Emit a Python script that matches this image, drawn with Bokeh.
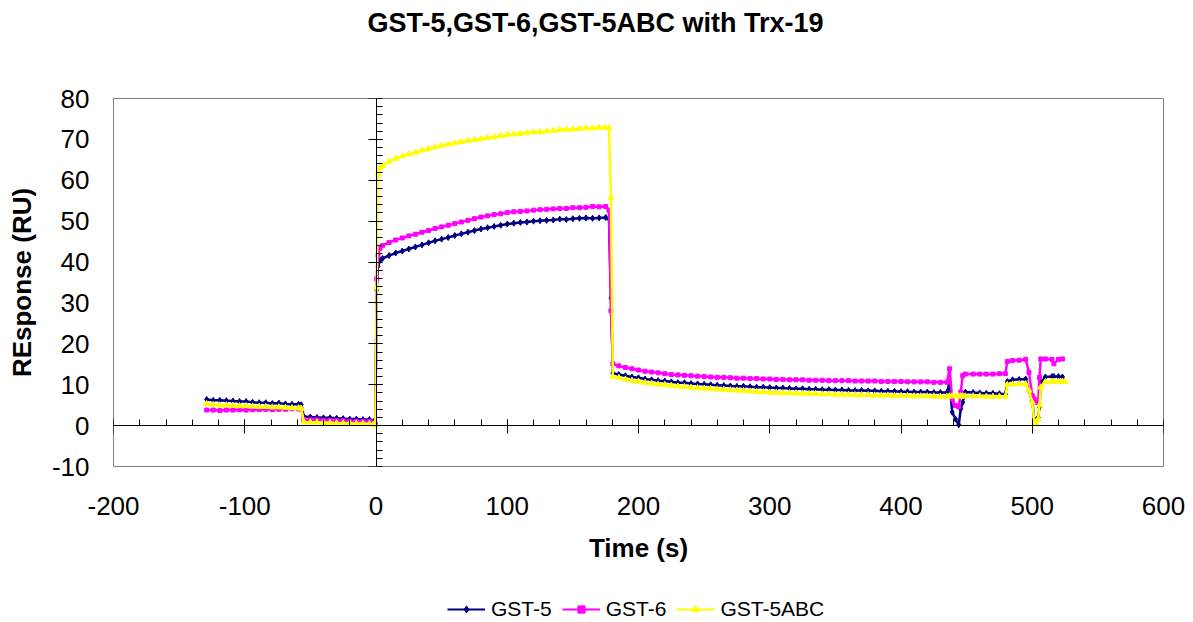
from bokeh.plotting import figure
from bokeh.layouts import column
from bokeh.models import (Range1d, LinearAxis, SingleIntervalTicker, Legend,
                          LegendItem, CustomJSTickFormatter, ColumnDataSource)
from bokeh.embed import file_html
from bokeh.resources import INLINE

FONT = "Liberation Sans"
WIDTH = 1193

# ---- sensorgram data: time (s) and response (RU), by phase ----
t_base = [-129, -124, -119, -114, -109, -104, -99, -94, -89, -84, -79, -74, -69,
          -64, -59, -57, -55, -50, -45, -40, -35, -30, -25, -20, -15, -10, -5,
          -2, -0.5]
gst5_base = [6.4, 6.2, 6.2, 6.1, 6.0, 5.9, 5.9, 5.7, 5.6, 5.6, 5.4, 5.5, 5.3,
             5.2, 5.2, 5.1, 2.2, 2.1, 2.0, 1.9, 1.9, 1.8, 1.7, 1.6, 1.6, 1.5,
             1.5, 1.0, 0.5]
gst6_base = [3.8, 3.8, 3.7, 3.8, 3.8, 3.9, 3.8, 3.9, 3.9, 4.0, 3.9, 4.0, 4.0,
             4.1, 4.1, 4.0, 1.5, 1.4, 1.4, 1.3, 1.3, 1.2, 1.2, 1.1, 1.1, 1.0,
             1.0, 0.7, 0.3]
gst5abc_base = [5.3, 5.1, 5.0, 5.0, 4.9, 4.8, 4.8, 4.7, 4.6, 4.6, 4.5, 4.5, 4.4,
                4.3, 4.3, 4.2, 0.9, 0.8, 0.8, 0.7, 0.7, 0.6, 0.6, 0.6, 0.5, 0.5,
                0.4, 0.3, 0.1]

t_assoc = [0.5, 1.5, 3, 5, 10, 15, 20, 25, 30, 35, 40, 45, 50, 55, 60, 65, 70,
           75, 80, 85, 90, 95, 100, 105, 110, 115, 120, 125, 130, 135, 140, 145,
           150, 155, 160, 165, 170, 175, 177.5]
gst5_assoc = [33.2, 39.0, 40.4, 40.9, 41.6, 42.2, 42.7, 43.2, 43.7, 44.2, 44.7,
              45.2, 45.6, 46.0, 46.5, 46.9, 47.3, 47.7, 48.1, 48.4, 48.7, 49.0,
              49.3, 49.5, 49.7, 49.8, 50.0, 50.1, 50.2, 50.3, 50.5, 50.4, 50.6,
              50.7, 50.8, 50.7, 50.8, 50.9, 50.6]
gst6_assoc = [35.9, 41.6, 43.4, 44.0, 44.8, 45.4, 45.9, 46.4, 46.8, 47.3, 47.7,
              48.2, 48.6, 49.0, 49.4, 49.8, 50.2, 50.6, 51.0, 51.3, 51.6, 51.8,
              52.1, 52.3, 52.4, 52.5, 52.7, 52.8, 52.9, 53.0, 53.1, 53.1, 53.3,
              53.3, 53.4, 53.6, 53.5, 53.6, 52.7]
gst5abc_assoc = [33.8, 61.5, 63.0, 63.6, 64.6, 65.3, 65.9, 66.4, 66.8, 67.3,
                 67.7, 68.1, 68.5, 68.8, 69.1, 69.4, 69.7, 69.9, 70.1, 70.4,
                 70.6, 70.9, 71.1, 71.3, 71.4, 71.6, 71.8, 71.8, 72.0, 72.1,
                 72.3, 72.4, 72.5, 72.6, 72.8, 72.7, 72.9, 72.9, 72.8]

t_dissoc = [179, 180.5, 185, 190, 195, 200, 205, 210, 215, 220, 225, 230, 235,
            240, 245, 250, 255, 260, 265, 270, 275, 280, 285, 290, 295, 300,
            305, 310, 315, 320, 325, 330, 335, 340, 345, 350, 355, 360, 365,
            370, 375, 380, 385, 390, 395, 400, 405, 410, 415, 420, 425, 430, 435]
gst5_dissoc = [31.2, 12.8, 12.5, 12.2, 11.9, 11.7, 11.4, 11.2, 11.0, 10.9, 10.7,
               10.5, 10.5, 10.3, 10.2, 10.1, 10.0, 9.9, 9.8, 9.7, 9.6, 9.6, 9.5,
               9.4, 9.4, 9.3, 9.2, 9.2, 9.1, 9.0, 9.0, 8.9, 8.9, 8.8, 8.8, 8.7,
               8.7, 8.6, 8.6, 8.6, 8.5, 8.5, 8.4, 8.4, 8.4, 8.3, 8.3, 8.2, 8.2,
               8.2, 8.1, 8.1, 8.1]
gst6_dissoc = [28.1, 15.1, 14.6, 14.2, 13.9, 13.6, 13.3, 13.1, 12.9, 12.7, 12.5,
               12.4, 12.3, 12.2, 12.1, 12.0, 11.9, 11.8, 11.8, 11.7, 11.6, 11.6,
               11.5, 11.5, 11.4, 11.4, 11.3, 11.3, 11.2, 11.2, 11.2, 11.1, 11.1,
               11.1, 11.0, 11.0, 11.0, 11.0, 10.9, 10.9, 10.9, 10.9, 10.8, 10.8,
               10.8, 10.8, 10.7, 10.7, 10.7, 10.7, 10.6, 10.6, 10.6]
gst5abc_dissoc = [55.8, 12.0, 11.7, 11.3, 11.0, 10.8, 10.5, 10.3, 10.1, 10.0,
                  9.8, 9.6, 9.5, 9.3, 9.2, 9.1, 9.0, 8.9, 8.8, 8.7, 8.6, 8.5,
                  8.4, 8.3, 8.2, 8.1, 8.1, 8.0, 8.0, 7.9, 7.9, 7.8, 7.8, 7.7,
                  7.7, 7.6, 7.6, 7.6, 7.5, 7.5, 7.5, 7.4, 7.4, 7.4, 7.3, 7.3,
                  7.3, 7.2, 7.2, 7.2, 7.2, 7.1, 7.1]

NA = float("nan")
t_regen = [437, 439, 441.5, 444, 445.5, 447, 449, 455, 460, 465, 470, 475,
           479.5, 481, 485, 490, 495, 497.5, 500, 501.5, 503, 504.5, 505.5,
           506.5, 510, 515, 516.5, 520, 523, 525]
gst5_regen = [10.6, 3.3, 1.6, 0.2, 4.1, 5.7, 8.2, 8.1, 8.0, 7.9, 7.9, 7.8, 7.7,
              10.8, 11.2, 11.3, 11.4, 8.6, 6.1, 1.6, 1.2, 2.0, 4.5, 10.6, 11.9,
              12.0, 12.0, 12.0, 11.9, NA]
gst6_regen = [13.9, 6.5, 4.9, 4.6, 8.2, 12.2, 12.6, 12.6, 12.6, 12.6, 12.6,
              12.7, 12.7, 15.7, 15.9, 16.0, 16.2, 13.0, 7.3, 6.5, 5.7, 5.7,
              11.8, 16.3, 16.3, 16.2, 15.1, 16.2, 16.3, NA]
gst5abc_regen = [7.2, 7.2, 7.2, 7.2, 7.2, 7.2, 7.2, 7.2, 7.2, 7.1, 7.1, 7.1,
                 7.1, 10.0, 10.1, 10.2, 10.2, 8.6, 5.7, 1.2, 0.4, 1.6, 5.0, 9.4,
                 10.7, 10.8, 10.8, 10.8, 10.8, 10.7]

series_names = ["GST-5", "GST-6", "GST-5ABC"]
series_colors = ["#000080", "#FF00FF", "#FFFF00"]
series_markers = ["diamond", "square", "triangle"]
marker_sizes = [6, 4, 6]

time_s = t_base + t_assoc + t_dissoc + t_regen
responses = [
    gst5_base + gst5_assoc + gst5_dissoc + gst5_regen,
    gst6_base + gst6_assoc + gst6_dissoc + gst6_regen,
    gst5abc_base + gst5abc_assoc + gst5abc_dissoc + gst5abc_regen,
]


def bare(fig):
    fig.outline_line_color = None
    fig.background_fill_color = "white"
    fig.border_fill_color = "white"


# ---- header strip carrying the chart title ----
# (frames in a column share their left edge with the main plot's frame)
header = figure(width=WIDTH, height=60, output_backend="svg",
                toolbar_location=None, x_range=Range1d(0, 1),
                y_range=Range1d(0, 1), x_axis_type=None, y_axis_type=None,
                min_border=0)
bare(header)
header.title.text = "GST-5,GST-6,GST-5ABC with Trx-19"
header.title.text_font = FONT
header.title.text_font_size = "27px"
header.title.text_font_style = "bold"
header.title.text_color = "black"
header.title.align = "left"
header.title.offset = 254
header.title.standoff = 10

# ---- main plot ----
p = figure(width=WIDTH, height=534, output_backend="svg",
           toolbar_location=None, title=None,
           x_range=Range1d(-200, 600), y_range=Range1d(-10, 80),
           x_axis_type=None, y_axis_type=None,
           min_border_left=113, min_border_right=30,
           min_border_top=38, min_border_bottom=128)
p.outline_line_color = "#808080"
p.outline_line_width = 1
p.background_fill_color = "white"
p.border_fill_color = "white"

x_ticker = SingleIntervalTicker(interval=100, num_minor_ticks=5)
y_ticker = SingleIntervalTicker(interval=10, num_minor_ticks=5)
plain_numbers = CustomJSTickFormatter(code="return String(tick)")
no_labels = CustomJSTickFormatter(code="return ''")


def label_axis(axis, title, standoff, title_standoff):
    axis.formatter = plain_numbers
    axis.axis_label = title
    axis.axis_label_text_font = FONT
    axis.axis_label_text_font_size = "26px"
    axis.axis_label_text_font_style = "bold"
    axis.axis_label_text_color = "black"
    axis.axis_label_standoff = title_standoff
    axis.major_label_text_font = FONT
    axis.major_label_text_font_size = "26px"
    axis.major_label_text_color = "black"
    axis.major_label_standoff = standoff
    axis.axis_line_color = None
    axis.major_tick_line_color = None
    axis.minor_tick_line_color = None
    axis.major_tick_in = 0
    axis.major_tick_out = 0
    axis.minor_tick_in = 0
    axis.minor_tick_out = 0


def crossing_axis(axis):
    axis.fixed_location = 0
    axis.formatter = no_labels
    axis.axis_line_color = "black"
    axis.major_tick_line_color = "black"
    axis.minor_tick_line_color = "black"
    axis.major_tick_in = 6
    axis.major_tick_out = 8
    axis.minor_tick_in = 6
    axis.minor_tick_out = 0


# tick labels sit at the plot edges
x_labels = LinearAxis(ticker=x_ticker)
label_axis(x_labels, "Time (s)", 30, 15)
p.add_layout(x_labels, "below")

y_labels = LinearAxis(ticker=y_ticker)
label_axis(y_labels, "REsponse (RU)", 24, 12)
p.add_layout(y_labels, "left")

# axis lines cross at the origin
x_cross = LinearAxis(ticker=x_ticker)
crossing_axis(x_cross)
p.add_layout(x_cross, "below")

y_cross = LinearAxis(ticker=y_ticker)
crossing_axis(y_cross)
p.add_layout(y_cross, "left")

for color, marker, size, resp in zip(series_colors, series_markers,
                                     marker_sizes, responses):
    src = ColumnDataSource(data=dict(t=time_s, r=resp))
    p.line("t", "r", source=src, line_color=color, line_width=2.5)
    p.scatter("t", "r", source=src, marker=marker, size=size,
              fill_color=color, line_color=color)

# ---- legend strip under the plot ----
key = figure(width=WIDTH, height=28, output_backend="svg",
             toolbar_location=None, title=None, x_range=Range1d(0, 1),
             y_range=Range1d(0, 1), x_axis_type=None, y_axis_type=None,
             min_border=0)
bare(key)
items = []
for name, color, marker, size in zip(series_names, series_colors,
                                     series_markers, marker_sizes):
    # placeholder renderers (a single undefined point) that only style the key
    ln = key.line([NA], [NA], line_color=color, line_width=2)
    sc = key.scatter([NA], [NA], marker=marker, size=size, fill_color=color,
                     line_color=color)
    items.append(LegendItem(label=name, renderers=[ln, sc]))

legend = Legend(items=items, orientation="horizontal", location=(334, 1),
                label_text_font=FONT, label_text_font_size="21px",
                label_text_color="black", glyph_width=38, glyph_height=18,
                label_standoff=6, spacing=10, padding=0, margin=0,
                border_line_color=None, background_fill_alpha=0)
key.add_layout(legend, "center")

page = column(header, p, key, spacing=0)
open("out.html", "w").write(file_html(page, INLINE))
